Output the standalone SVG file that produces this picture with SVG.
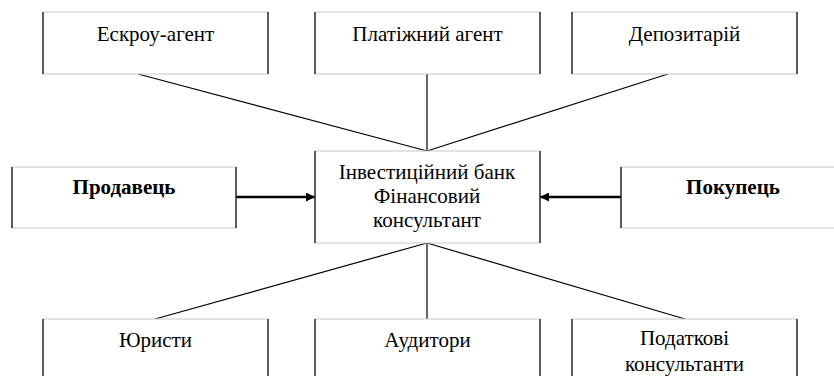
<svg xmlns="http://www.w3.org/2000/svg" width="834" height="376" viewBox="0 0 834 376">
<style>
.box{fill:#fff;stroke:#c8c8c8;stroke-width:1}
.side{stroke:#000;stroke-width:1.2}
text{font-family:'Liberation Serif','Times New Roman',serif;font-size:21px;fill:#000;text-anchor:middle}
.b{font-weight:bold}
.c{stroke:#000;stroke-width:1.2;fill:none}
.a{stroke:#000;stroke-width:2.4;fill:none}
</style>
<defs>
<marker id="ah" viewBox="0 0 10 10" refX="10" refY="5" markerWidth="9" markerHeight="9" markerUnits="userSpaceOnUse" orient="auto">
<path d="M0,0 L10,5 L0,10 z" fill="#000"/>
</marker>
</defs>
<rect width="834" height="376" fill="#fff"/>
<g id="connectors">
<line class="c" x1="138" y1="74" x2="427" y2="151"/>
<line class="c" x1="427" y1="74" x2="427" y2="151"/>
<line class="c" x1="668" y1="74" x2="427" y2="151"/>
<line class="c" x1="427" y1="243" x2="155" y2="319"/>
<line class="c" x1="427" y1="243" x2="427" y2="319"/>
<line class="c" x1="427" y1="243" x2="685" y2="319"/>
<line class="a" x1="236" y1="197" x2="315" y2="197" marker-end="url(#ah)"/>
<line class="a" x1="621" y1="197" x2="540" y2="197" marker-end="url(#ah)"/>
</g>
<g id="escrow">
<rect class="box" x="43" y="12" width="225" height="62"/>
<line class="side" x1="43" y1="12" x2="43" y2="74"/><line class="side" x1="268" y1="12" x2="268" y2="74"/>
<text x="155.5" y="41">Ескроу-агент</text>
</g>
<g id="payment">
<rect class="box" x="315" y="12" width="225" height="62"/>
<line class="side" x1="315" y1="12" x2="315" y2="74"/><line class="side" x1="540" y1="12" x2="540" y2="74"/>
<text x="427.5" y="41">Платіжний агент</text>
</g>
<g id="depository">
<rect class="box" x="572" y="12" width="225" height="62"/>
<line class="side" x1="572" y1="12" x2="572" y2="74"/><line class="side" x1="797" y1="12" x2="797" y2="74"/>
<text x="684.5" y="41">Депозитарій</text>
</g>
<g id="seller">
<rect class="box" x="12" y="167" width="224" height="61"/>
<line class="side" x1="12" y1="167" x2="12" y2="228"/><line class="side" x1="236" y1="167" x2="236" y2="228"/>
<text class="b" x="124" y="194">Продавець</text>
</g>
<g id="bank">
<rect class="box" x="315" y="151" width="225" height="92"/>
<line class="side" x1="315" y1="151" x2="315" y2="243"/><line class="side" x1="540" y1="151" x2="540" y2="243"/>
<text x="427" y="179">Інвестиційний банк</text>
<text x="427" y="203">Фінансовий</text>
<text x="427" y="227">консультант</text>
</g>
<g id="buyer">
<rect class="box" x="621" y="167" width="224" height="61"/>
<line class="side" x1="621" y1="167" x2="621" y2="228"/>
<text class="b" x="733" y="194">Покупець</text>
</g>
<g id="lawyers">
<rect class="box" x="43" y="319" width="225" height="70"/>
<line class="side" x1="43" y1="319" x2="43" y2="389"/><line class="side" x1="268" y1="319" x2="268" y2="389"/>
<text x="155.5" y="347">Юристи</text>
</g>
<g id="auditors">
<rect class="box" x="315" y="319" width="225" height="70"/>
<line class="side" x1="315" y1="319" x2="315" y2="389"/><line class="side" x1="540" y1="319" x2="540" y2="389"/>
<text x="427.5" y="347">Аудитори</text>
</g>
<g id="tax">
<rect class="box" x="572" y="319" width="225" height="70"/>
<line class="side" x1="572" y1="319" x2="572" y2="389"/><line class="side" x1="797" y1="319" x2="797" y2="389"/>
<text x="684.5" y="345">Податкові</text>
<text x="684.5" y="371">консультанти</text>
</g>
</svg>
